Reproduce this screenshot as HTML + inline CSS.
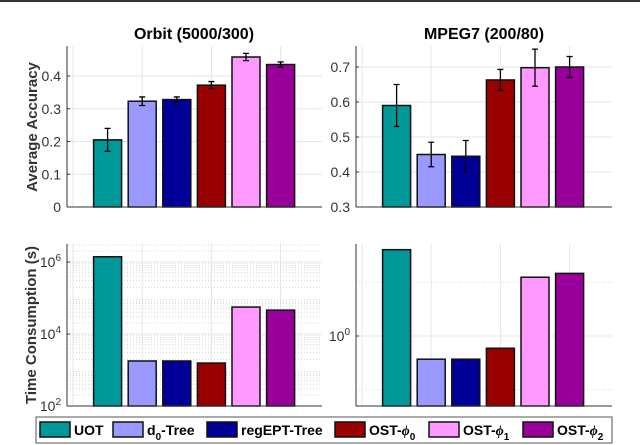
<!DOCTYPE html>
<html><head><meta charset="utf-8"><style>
body{margin:0;background:#fff}
svg{display:block;font-family:"Liberation Sans",sans-serif}
</style></head><body>
<svg id="c" width="640" height="445" viewBox="0 0 640 445" xmlns="http://www.w3.org/2000/svg">
<rect x="0" y="0" width="640" height="2" fill="#333"/>
<text x="194" y="39" font-size="16" font-weight="bold" text-anchor="middle">Orbit (5000/300)</text>
<text x="484" y="39" font-size="16" font-weight="bold" text-anchor="middle">MPEG7 (200/80)</text>
<text transform="translate(37,127) rotate(-90)" font-size="15" font-weight="bold" fill="#333" text-anchor="middle">Average Accuracy</text>
<text transform="translate(36,325) rotate(-90)" font-size="15" font-weight="bold" fill="#333" text-anchor="middle">Time Consumption (s)</text>
<g id="plots"></g>
<g id="legend"></g>
</svg>
<script>
const methods = ["UOT","d0-Tree","regEPT-Tree","OST-phi0","OST-phi1","OST-phi2"];
const colors = ["#009999","#9999ff","#000099","#990000","#ff99ff","#990099"];
const orbitAcc = [0.205,0.323,0.328,0.372,0.458,0.435];
const orbitErr = [0.035,0.013,0.008,0.011,0.011,0.008];
const mpegAcc = [0.59,0.45,0.445,0.663,0.698,0.70];
const mpegErr = [0.06,0.035,0.045,0.03,0.053,0.03];
const orbitTime = [1.4e6,1780,1780,1560,56000,46000];
const mpegTime = [6.3,0.61,0.61,0.77,3.5,3.8];
const orbitTicks = [0,0.1,0.2,0.3,0.4];
const mpegTicks = [0.3,0.4,0.5,0.6,0.7];

const NS="http://www.w3.org/2000/svg";
const plots=document.getElementById('plots');
function mk(tag,attrs,parent){const e=document.createElementNS(NS,tag);for(const k in attrs)e.setAttribute(k,attrs[k]);(parent||plots).appendChild(e);return e;}

function panel(opt){
  const g=mk('g',{});
  
  
  const L=opt.x0,R=opt.x1,T=opt.y0,B=opt.y1;
  const xs=i=>L+6+34.6*(i+1);
  const ys=opt.ys;
  [0,2,4,6].forEach(k=>{const x=L+6+34.6*k;mk('line',{x1:x,x2:x,y1:T,y2:B,stroke:'#e6e6e6','stroke-width':1},g);});
  if(opt.minor){opt.minor.forEach(v=>{const y=ys(v);mk('line',{x1:L,x2:R,y1:y,y2:y,stroke:'#d0d0d0','stroke-width':0.8,'stroke-dasharray':'1,2'},g);});}
  opt.ticks.forEach((t,i)=>{const y=ys(t);
    mk('line',{x1:L,x2:R,y1:y,y2:y,stroke:'#e6e6e6','stroke-width':1},g);
    mk('line',{x1:L,x2:L+3,y1:y,y2:y,stroke:'#333','stroke-width':1},g);
    if(opt.labels){const tx=mk('text',{x:L-6,y:y+5,'font-size':14,fill:'#333','text-anchor':'end'},g);
      if(opt.log){tx.textContent='10';const s=mk('tspan',{dy:-6,'font-size':10},tx);s.textContent=opt.labels[i];}
      else tx.textContent=opt.labels[i];
      }
  });
  opt.vals.forEach((v,i)=>{const y=ys(v);const cx=xs(i);
    const r=mk('rect',{x:cx-14,y:y,width:28,height:B-y,fill:colors[i],stroke:'#111','stroke-width':1.5},g);
    
    
    if(opt.err){const e=opt.err[i];const y1=ys(v+e),y2=ys(v-e);
      const eb=mk('path',{d:`M${cx},${y1}V${y2}M${cx-3},${y1}H${cx+3}M${cx-3},${y2}H${cx+3}`,stroke:'#000','stroke-width':1.3,fill:'none'},g);
      }
  });
  mk('line',{x1:L,x2:L,y1:T,y2:B,stroke:'#333','stroke-width':1},g);
  mk('line',{x1:L,x2:R,y1:B,y2:B,stroke:'#333','stroke-width':1},g);
}
panel({name:'orbit-accuracy-panel',x0:67,x1:322,y0:46,y1:207,ticks:orbitTicks,labels:orbitTicks.map(String),
  ys:v=>207-v*327.5,vals:orbitAcc,err:orbitErr});
panel({name:'mpeg7-accuracy-panel',x0:356,x1:612,y0:46,y1:207,ticks:mpegTicks,labels:mpegTicks.map(String),
  ys:v=>207-(v-0.3)*350,vals:mpegAcc,err:mpegErr});
const minorL=[];for(let d=2;d<7;d++)for(let m=2;m<10;m++){const v=m*Math.pow(10,d);if(Math.log10(v)<6.5)minorL.push(v);}
panel({name:'orbit-time-panel',x0:67,x1:322,y0:244,y1:406,ticks:[1e2,1e4,1e6],labels:['2','4','6'],log:true,minor:minorL,
  ys:v=>406-(Math.log10(v)-2)*36,vals:orbitTime});
panel({name:'mpeg7-time-panel',x0:356,x1:612,y0:244,y1:406,ticks:[1],labels:['0'],log:true,minor:[Math.pow(10,0.5),Math.pow(10,-0.5)],
  ys:v=>336-Math.log10(v)*108,vals:mpegTime});

const lg=document.getElementById('legend');
const box=mk('rect',{x:36,y:417,width:576,height:26,fill:'#fff',stroke:'#555','stroke-width':1},lg);

const sw=[40,113,207,335,429,523];
const lbl=[['UOT',''],['d','0','-Tree'],['regEPT-Tree',''],['OST-','0'],['OST-','1'],['OST-','2']];
sw.forEach((x,i)=>{
  const g=mk('g',{},lg);
  
  
  mk('rect',{x:x,y:422,width:30,height:15,fill:colors[i],stroke:'#111','stroke-width':1.5},g);
  const t=mk('text',{x:x+34,y:435,'font-size':14,'font-weight':'bold'},g);
  const a=lbl[i];
  const t1=mk('tspan',{},t);t1.textContent=a[0];
  if(i>=3){const p=mk('tspan',{'font-style':'italic','font-family':'Liberation Serif, serif'},t);p.textContent='\u03D5';}
  if(a[1]){const s=mk('tspan',{dy:5,'font-size':10},t);s.textContent=a[1];}
  if(a[2]){const s=mk('tspan',{dy:-5},t);s.textContent=a[2];}
});
</script>
</body></html>
